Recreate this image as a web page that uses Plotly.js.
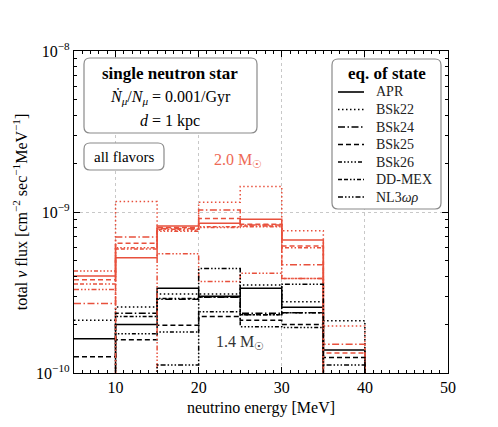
<!DOCTYPE html>
<html>
<head>
<meta charset="utf-8">
<script src="https://cdn.plot.ly/plotly-3.0.1.min.js"></script>
<style>
  body { margin: 0; background: #fff; }
  #plot { width: 498px; height: 427px; }
</style>
</head>
<body>
<div id="plot"></div>
<script>
// bin left edges [MeV]; last entry closes the final bin
const binEdges = [5, 10, 15, 20, 25, 30, 35, 40];

const eosNames = ['APR', 'BSk22', 'BSk24', 'BSk25', 'BSk26', 'DD-MEX', 'NL3<i>ωρ</i>'];

// flux per bin, 2.0 Msun (null = below plotted range)
const flux20_APR    = [4.0e-10, 5.2e-10, 8.2e-10, 8.5e-10, 9.0e-10, 6.7e-10, null];
const flux20_BSk22  = [null,    1.16e-9, 7.7e-10, 1.15e-9, 1.44e-9, 7.65e-10, 1.96e-10];
const flux20_BSk24  = [2.7e-10, 7.0e-10, 7.9e-10, 1.03e-9, 8.3e-10, 4.7e-10, 1.51e-10];
const flux20_BSk25  = [3.8e-10, 6.4e-10, 8.0e-10, 9.1e-10, 8.4e-10, 6.15e-10, 1.33e-10];
const flux20_BSk26  = [4.3e-10, 6.0e-10, 7.6e-10, 8.0e-10, 8.1e-10, 3.87e-10, null];
const flux20_DDMEX  = [3.57e-10, 5.9e-10, 7.8e-10, 8.1e-10, 8.2e-10, 6.0e-10, null];
const flux20_NL3    = [3.3e-10, null,    5.5e-10, 3.7e-10, 4.16e-10, 3.87e-10, null];

// flux per bin, 1.4 Msun
const flux14_APR    = [1.63e-10, 2.0e-10, 3.36e-10, 3.0e-10, 3.36e-10, 2.56e-10, 1.39e-10];
const flux14_BSk22  = [2.13e-10, 2.57e-10, 3.1e-10, 3.1e-10, 3.52e-10, 2.77e-10, 2.11e-10];
const flux14_BSk24  = [null,     2.35e-10, 2.87e-10, 2.95e-10, 2.35e-10, 2.37e-10, null];
const flux14_BSk25  = [1.26e-10, 1.61e-10, 1.98e-10, 2.24e-10, 2.13e-10, 2.0e-10, 1.25e-10];
const flux14_BSk26  = [null,     1.75e-10, 1.80e-10, 2.4e-10, 1.94e-10, 1.92e-10, null];
const flux14_DDMEX  = [null,     2.24e-10, 2.9e-10, 2.97e-10, 2.3e-10, 2.37e-10, null];
const flux14_NL3    = [null,     null,     1.12e-10, 4.45e-10, 2.3e-10, 3.56e-10, 1.12e-10];

const flux20 = [flux20_APR, flux20_BSk22, flux20_BSk24, flux20_BSk25, flux20_BSk26, flux20_DDMEX, flux20_NL3];
const flux14 = [flux14_APR, flux14_BSk22, flux14_BSk24, flux14_BSk25, flux14_BSk26, flux14_DDMEX, flux14_NL3];

const yTickVals = [1e-10, 1e-9, 1e-8];
const yTickText = ['10<sup>−10</sup>', '10<sup>−9</sup>', '10<sup>−8</sup>'];
const yMinorVals = [2e-10, 3e-10, 4e-10, 5e-10, 6e-10, 7e-10, 8e-10, 9e-10,
                    2e-9, 3e-9, 4e-9, 5e-9, 6e-9, 7e-9, 8e-9, 9e-9];

const dashes = [
    'solid',
    '1.5px,2.5px',
    '7px,2.5px,1.5px,2.5px',
    '5px,3px',
    '4px,2px,1.5px,2px,1.5px,2px,1.5px,2px,1.5px,2px',
    '4px,2px,4px,2px,1.5px,2px,1.5px,2px',
    '5px,2px,1.5px,2px,1.5px,2px,1.5px,2px'
];

const RED = '#e8503c';
const FLOOR = 1e-13;   // stands in for empty bins on the log axis

// plot area in pixels (for boxes and the hand-made legend)
const L = 74, R = 448, T = 51, B = 373;
const px = x => (x - L) / (R - L);
const py = y => (B - y) / (B - T);

// rounded box, drawn in pixels around an anchor at its top-left corner
function roundBox(x0, y0, x1, y1, r) {
    const w = x1 - x0, h = y1 - y0;
    const p = (x, y) => x + ',' + (-y);
    const path = 'M' + p(r, 0) + ' L' + p(w - r, 0) + ' Q' + p(w, 0) + ' ' + p(w, r) +
        ' L' + p(w, h - r) + ' Q' + p(w, h) + ' ' + p(w - r, h) +
        ' L' + p(r, h) + ' Q' + p(0, h) + ' ' + p(0, h - r) +
        ' L' + p(0, r) + ' Q' + p(0, 0) + ' ' + p(r, 0) + ' Z';
    return {
        type: 'path', xref: 'paper', yref: 'paper',
        xsizemode: 'pixel', ysizemode: 'pixel',
        xanchor: px(x0), yanchor: py(y0),
        path: path,
        line: { color: '#8a8a8a', width: 1.2 }, fillcolor: 'white', layer: 'above'
    };
}

function stairs(values, color, dash, name) {
    const y = values.map(v => v === null ? FLOOR : v);
    y.push(FLOOR);
    return {
        x: binEdges, y: y,
        mode: 'lines',
        line: { color: color, width: 1.5, dash: dash, shape: 'hv' },
        showlegend: false, hoverinfo: 'skip', name: name,
        type: 'scatter'
    };
}

const traces = [];
for (let i = 0; i < eosNames.length; i++) {
    traces.push(stairs(flux20[i], RED, dashes[i], eosNames[i]));
    traces.push(stairs(flux14[i], 'black', dashes[i], eosNames[i]));
}

const FONT = 'Liberation Serif, DejaVu Serif, serif';

function label(x, y, text, size, color, anchor) {
    return {
        xref: 'paper', yref: 'paper', x: px(x), y: py(y), showarrow: false,
        xanchor: anchor || 'center', yanchor: 'middle',
        text: text, font: { size: size, color: color || 'black' }
    };
}

const shapes = [
    roundBox(84, 58, 257, 133, 6),
    roundBox(84, 143, 164, 170, 6),
    roundBox(332, 59, 441, 209, 6)
];
const annotations = [
    label(170, 73, '<b>single neutron star</b>', 17),
    label(170, 97, '<i>Ṅ</i><sub><i>μ</i></sub>/<i>N</i><sub><i>μ</i></sub> = 0.001/Gyr', 16),
    label(170, 121, '<i>d</i> = 1 kpc', 16),
    label(124, 157, 'all flavors', 15),
    label(238, 160, '2.0 M<sub>☉</sub>', 16, '#ee6a55'),
    label(240, 342, '1.4 M<sub>☉</sub>', 16, '#333'),
    label(387, 73, '<b>eq. of state</b>', 17)
];

// legend: one sample line and name per equation of state
for (let i = 0; i < eosNames.length; i++) {
    const yy = 92 + 17.5 * i;
    shapes.push({
        type: 'line', xref: 'paper', yref: 'paper',
        x0: px(338), x1: px(364), y0: py(yy), y1: py(yy),
        line: { color: 'black', width: 1.6, dash: dashes[i] }, layer: 'above'
    });
    annotations.push(label(374, yy, eosNames[i], 14, '#222', 'left'));
}

const layout = {
    width: 498, height: 427,
    margin: { l: L, r: 498 - R, t: T, b: 427 - B },
    paper_bgcolor: 'white', plot_bgcolor: 'white',
    font: { family: FONT, size: 15, color: 'black' },
    showlegend: false,
    xaxis: {
        range: [5, 50],
        tickvals: [10, 20, 30, 40, 50],
        ticks: 'inside', ticklen: 6, tickcolor: 'black',
        showline: true, linecolor: 'black', linewidth: 1.2, mirror: 'allticks',
        showgrid: true, gridcolor: '#c8c8c8', griddash: 'dot', gridwidth: 1,
        zeroline: false,
        minor: { dtick: 1, ticks: 'inside', ticklen: 3, tickcolor: 'black', showgrid: false },
        title: { text: 'neutrino energy [MeV]', font: { size: 16 }, standoff: 6 },
        tickfont: { size: 16 }
    },
    yaxis: {
        type: 'log',
        range: [-10, -8],
        tickvals: yTickVals, ticktext: yTickText,
        ticks: 'inside', ticklen: 6, tickcolor: 'black',
        showline: true, linecolor: 'black', linewidth: 1.2, mirror: 'allticks',
        showgrid: true, gridcolor: '#c8c8c8', griddash: 'dot', gridwidth: 1,
        zeroline: false,
        minor: { tickvals: yMinorVals, ticks: 'inside', ticklen: 3, tickcolor: 'black', showgrid: false },
        title: { text: 'total <i>ν</i> flux [cm<sup>−2</sup> sec<sup>−1</sup>MeV<sup>−1</sup>]', font: { size: 16 }, standoff: 4 },
        tickfont: { size: 16 }
    },
    shapes: shapes,
    annotations: annotations
};

Plotly.newPlot('plot', traces, layout, { displayModeBar: false, staticPlot: true });
</script>
</body>
</html>
